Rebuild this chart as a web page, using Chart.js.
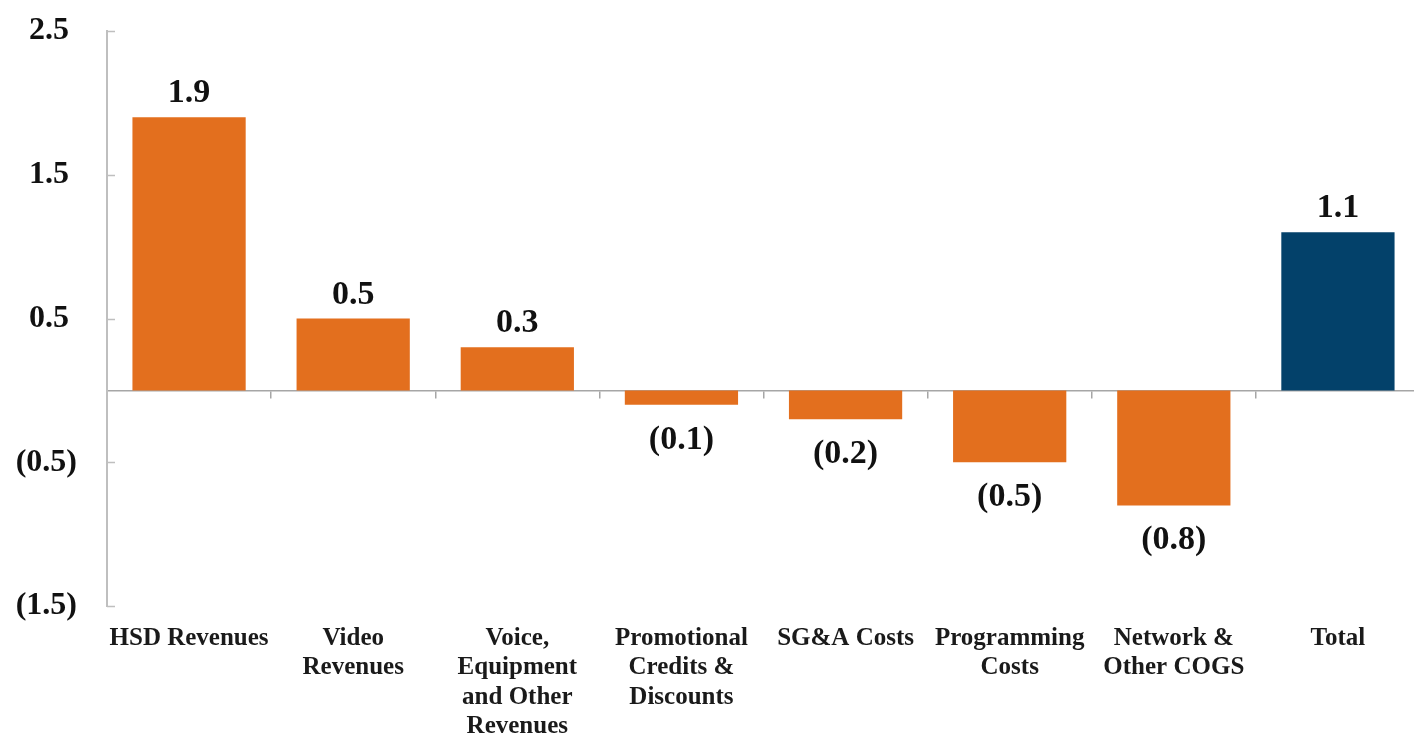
<!DOCTYPE html>
<html>
<head>
<meta charset="utf-8">
<title>Bridge chart</title>
<script src="https://cdn.jsdelivr.net/npm/chart.js@4.4.1/dist/chart.umd.min.js"></script>
<style>
  html, body { margin: 0; padding: 0; background: #fff; overflow: hidden; }
  canvas { display: block; }
</style>
</head>
<body>
<canvas id="bridge-chart" width="1420" height="736"></canvas>
<script>
/**
 * datos del grafico
 */
const categorias = [
  "HSD Revenues",
  ["Video", "Revenues"],
  ["Voice,", "Equipment", "and Other", "Revenues"],
  ["Promotional", "Credits &", "Discounts"],
  "SG&A Costs",
  ["Programming", "Costs"],
  ["Network &", "Other COGS"],
  "Total"
]
const valores = [1.9, 0.5, 0.3, -0.1, -0.2, -0.5, -0.8, 1.1]
const ticksY = [-1.5, -0.5, 0.5, 1.5, 2.5]

const naranja = "#e36f1e"
const azul = "#03416a"
const fuente = "'Liberation Serif', 'Times New Roman', serif"

// negativos entre parentesis, como en el original
const formato = v => v < 0 ? "(" + Math.abs(v).toFixed(1) + ")" : v.toFixed(1)

// etiquetas encima / debajo de cada barra
const etiquetasBarras = {
  id: "etiquetasBarras",
  afterDatasetsDraw(chart) {
    const ctx = chart.ctx
    const meta = chart.getDatasetMeta(0)
    ctx.save()
    ctx.font = "bold 34px " + fuente
    ctx.fillStyle = "#111"
    ctx.textAlign = "center"
    ctx.textBaseline = "alphabetic"
    meta.data.forEach((barra, i) => {
      const v = valores[i]
      const y = v < 0 ? barra.y + 44 : barra.y - 15
      ctx.fillText(formato(v), barra.x, y)
    })
    ctx.restore()
  }
}

// marcas del eje y hacia dentro
const marcasY = {
  id: "marcasY",
  afterDraw(chart) {
    const escala = chart.scales.y
    const ctx = chart.ctx
    ctx.save()
    ctx.strokeStyle = "#bfbfbf"
    ctx.lineWidth = 1.5
    escala.ticks.forEach(t => {
      const py = Math.round(escala.getPixelForValue(t.value)) + 0.5
      ctx.beginPath()
      ctx.moveTo(escala.right, py)
      ctx.lineTo(escala.right + 8, py)
      ctx.stroke()
    })
    ctx.restore()
  }
}

const contenedor = document.querySelector("#bridge-chart").getContext("2d")

const config = {
  type: "bar",
  data: {
    labels: categorias,
    datasets: [{
      data: valores,
      backgroundColor: c => c.dataIndex === valores.length - 1 ? azul : naranja,
      borderWidth: 0,
      barPercentage: 0.69,
      categoryPercentage: 1
    }]
  },
  options: {
    responsive: false,
    animation: false,
    devicePixelRatio: 1,
    layout: { padding: { top: 31, left: 0, right: 0, bottom: 0 } },
    plugins: {
      legend: { display: false },
      tooltip: { enabled: false }
    },
    scales: {
      // linea del cero con marcas entre categorias
      x: {
        type: "category",
        position: { y: 0 },
        offset: true,
        grid: {
          offset: true,
          drawOnChartArea: false,
          drawTicks: true,
          tickLength: 7,
          color: "#a6a6a6",
          lineWidth: 1.5
        },
        border: { display: true, color: "#a6a6a6", width: 1.5 },
        ticks: { display: false },
        afterFit(s) { s.height = 0 }
      },
      // nombres de las categorias abajo
      xl: {
        type: "category",
        position: "bottom",
        offset: true,
        grid: { display: false },
        border: { display: false },
        ticks: {
          autoSkip: false,
          maxRotation: 0,
          padding: 10,
          color: "#1a1a1a",
          font: { family: fuente, size: 25, weight: "bold", lineHeight: 1.17 }
        },
        afterFit(s) { s.height = 130 }
      },
      y: {
        min: ticksY[0],
        max: ticksY[ticksY.length - 1],
        afterBuildTicks(s) { s.ticks = ticksY.map(v => ({ value: v })) },
        grid: { display: false, drawTicks: false },
        border: { display: true, color: "#bfbfbf", width: 2 },
        ticks: {
          padding: 30,
          color: "#111",
          font: { family: fuente, size: 32, weight: "bold" },
          callback: v => v < 0 ? formato(v) : formato(v) + " "
        },
        afterFit(s) {
          s.width = 107
          s.paddingTop = 0
          s.paddingBottom = 0
        }
      }
    }
  },
  plugins: [etiquetasBarras, marcasY]
}

const grafico = new Chart(contenedor, config)
</script>
</body>
</html>
